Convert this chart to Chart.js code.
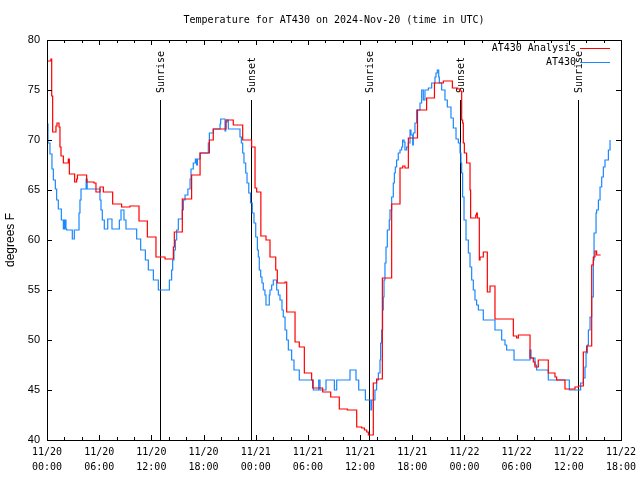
<!DOCTYPE html>
<html>
<head>
<meta charset="utf-8">
<script src="https://cdn.jsdelivr.net/npm/chart.js@4/dist/chart.umd.min.js"></script>
<style>
html,body{margin:0;padding:0;background:#fff;}
canvas{display:block;}
</style>
</head>
<body>
<canvas id="c" width="640" height="480"></canvas>
<script>
// ---- data (hours since 2024-11-20 00:00 UTC) ----
const chartTitle = 'Temperature for AT430 on 2024-Nov-20 (time in UTC)';
const yTitle = 'degrees F';
const seriesNames = ['AT430 Analysis', 'AT430'];

const analysisHours = [0,0.45,0.54,0.65,1.03,1.15,1.38,1.49,1.61,1.88,2.45,2.57,3.18,3.41,3.5,4.56,5.4,5.63,6.09,6.48,7.55,8.58,9.54,10.58,11.54,12.53,13.57,14.53,14.64,15.56,16.63,17.6,18.67,19.12,20.58,21.42,22.5,23.53,23.92,24.11,24.59,25.18,25.64,26.3,26.48,27.37,27.56,28.52,29.01,29.59,30.43,30.55,31.7,32.62,33.61,34.53,35.61,36.18,36.5,36.76,36.95,37.52,37.9,38.56,39.63,40.59,40.9,41.16,41.55,42.6,43.65,44.55,45.57,46.61,47.22,47.49,47.68,47.79,47.87,47.99,48.25,48.64,48.71,49.3,49.4,49.48,49.71,49.79,50.17,50.63,50.94,51.51,53.62,54.0,54.2,55.54,55.92,56.11,56.49,57.64,58.41,58.6,59.56,60.71,61.1,61.67,62.05,62.63,62.82,63.01,63.2,63.66];
const analysisTemps = [77.9,78.1,74.4,70.8,71.4,71.7,71.3,69.3,68.4,67.7,68.1,66.6,65.8,66.1,66.5,65.8,65.7,64.8,65.3,64.8,63.6,63.3,63.4,61.9,60.3,58.3,58.1,59.3,60.8,64.1,66.5,68.7,70.0,71.1,72.0,71.5,70.0,69.3,65.2,64.8,60.4,60.0,58.3,57.0,55.7,55.8,52.8,49.8,49.3,46.7,46.0,45.2,44.8,44.3,43.1,43.0,41.3,41.2,41.0,40.8,40.5,45.7,46.1,56.2,63.6,67.2,67.4,67.2,70.2,73.0,74.2,75.7,75.9,75.2,75.1,74.9,72.0,71.7,69.7,68.7,67.7,65.0,62.2,62.5,62.7,62.2,58.0,58.3,58.8,54.8,55.4,52.1,50.4,50.2,50.5,48.2,47.8,47.3,48.0,46.7,46.3,46.0,45.1,45.3,45.4,48.8,49.4,57.5,58.3,58.9,58.5,58.5];

const obsHours = [0,0.11,0.34,0.57,0.73,0.96,1.11,1.3,1.65,1.88,1.98,2.05,2.11,2.18,2.26,2.91,3.14,3.68,3.79,3.91,4.5,4.62,6.09,6.21,6.36,6.59,6.98,7.47,8.32,8.51,8.85,9.08,10.31,10.77,11.31,11.65,12.23,12.8,14.07,14.33,14.45,14.6,14.76,14.91,15.1,15.56,15.68,15.87,16.2,16.45,16.56,16.82,17.06,17.2,17.3,17.6,18.55,18.67,19.12,19.9,19.97,20.47,20.55,20.7,20.85,22.19,22.35,22.5,22.65,22.85,23.0,23.2,23.4,23.6,23.8,24.0,24.19,24.3,24.41,24.57,24.72,24.87,25.06,25.18,25.56,25.64,25.83,26.02,26.41,26.6,26.79,27.02,27.17,27.37,27.56,27.75,28.13,28.4,29.01,30.62,31.24,31.39,32.08,33.04,33.31,34.84,35.53,35.84,36.61,37.25,37.33,37.71,37.9,38.1,38.29,38.36,38.48,38.59,38.67,38.75,38.86,38.98,39.13,39.36,39.44,39.63,39.82,39.94,40.05,40.2,40.39,40.59,40.78,40.89,41.05,41.16,41.35,41.55,41.74,41.85,42.05,42.12,42.31,42.5,42.89,43.08,43.27,43.46,43.85,44.23,44.61,44.73,44.88,45.04,45.11,45.38,45.76,46.03,46.45,46.72,47.03,47.3,47.49,47.6,47.68,47.79,47.95,48.18,48.45,48.64,48.83,49.02,49.21,49.4,49.6,50.17,51.51,52.28,52.66,52.85,53.7,55.54,55.65,56.11,56.3,57.64,60.06,61.36,61.67,61.86,61.98,62.13,62.25,62.44,62.63,62.82,62.9,63.13,63.2,63.4,63.59,63.78,63.97,64.16,64.55,64.74];
const obsTemps = [71.6,69.7,68.6,67.1,66.0,65.1,64.0,63.1,62.0,61.1,62.0,61.1,62.0,61.1,61.0,60.1,61.0,62.7,64.0,65.1,66.1,65.1,64.0,63.0,62.0,61.1,62.1,61.1,62.0,63.0,62.0,61.1,60.1,59.0,58.0,57.0,56.0,55.0,56.0,57.0,58.0,59.0,60.0,61.0,62.1,63.0,64.0,64.5,65.1,66.1,67.1,67.7,68.1,67.5,68.1,68.7,69.7,70.7,71.1,71.6,72.1,70.9,71.8,72.0,71.1,70.3,69.7,68.7,67.7,66.7,65.7,64.7,63.7,62.7,61.7,60.3,59.0,58.3,57.0,56.3,55.7,55.0,54.5,53.5,54.5,55.0,55.5,56.0,55.0,54.5,54.0,53.0,52.3,51.0,50.0,49.0,48.0,47.0,46.0,45.0,46.0,45.0,46.0,45.0,46.0,47.0,46.0,45.0,44.0,43.0,44.0,45.0,46.0,46.7,48.0,49.7,51.0,53.0,54.3,56.0,57.7,59.3,61.0,62.0,63.0,64.3,65.7,66.7,67.3,68.0,68.7,69.0,69.3,70.0,69.8,69.0,69.3,69.7,71.0,70.5,69.5,70.7,71.7,73.0,73.7,75.0,74.0,75.0,75.2,75.7,76.3,76.7,77.0,76.3,75.7,75.0,74.0,73.3,72.2,71.2,70.1,69.7,68.7,67.7,66.7,64.3,62.0,60.0,58.7,57.3,56.0,55.0,54.0,53.5,53.0,52.0,51.0,50.0,49.5,49.0,48.0,49.0,48.2,47.5,47.0,46.0,45.0,45.7,46.2,47.3,48.7,49.5,51.0,52.3,54.3,58.0,60.7,62.7,63.0,64.0,65.3,66.3,67.3,68.0,69.0,70.0];

const eventHours = [12.98, 23.47, 37.02, 47.48, 61.08];
const eventLabels = ['Sunrise', 'Sunset', 'Sunrise', 'Sunset', 'Sunrise'];

const xTickDays  = ['11/20','11/20','11/20','11/20','11/21','11/21','11/21','11/21','11/22','11/22','11/22','11/22'];
const xTickTimes = ['00:00','06:00','12:00','18:00','00:00','06:00','12:00','18:00','00:00','06:00','12:00','18:00'];

// ---- styling ----
const RED = '#ff0000';
const BLUE = '#1a88ff';
const MONO = '"DejaVu Sans Mono", "Liberation Mono", monospace';
const SANS = '"Liberation Sans", Arial, sans-serif';

const toPts = (xs, ys) => xs.map((h, i) => ({ x: h, y: ys[i] }));

const frame = {
  id: 'frame',
  beforeDatasetsDraw(chart) {
    const { ctx, chartArea: a, scales: { x } } = chart;
    ctx.save();
    ctx.strokeStyle = '#000';
    ctx.fillStyle = '#000';
    ctx.lineWidth = 1;
    ctx.font = '10px ' + MONO;
    eventHours.forEach((h, i) => {
      const px = Math.round(x.getPixelForValue(h)) + 0.5;
      ctx.beginPath();
      ctx.moveTo(px, a.top + 60);
      ctx.lineTo(px, a.bottom);
      ctx.stroke();
      ctx.save();
      ctx.translate(px + 1, a.top + 53);
      ctx.rotate(-Math.PI / 2);
      ctx.textAlign = 'left';
      ctx.textBaseline = 'middle';
      ctx.fillText(eventLabels[i], 0, 0);
      ctx.restore();
    });
    ctx.restore();
  },
  afterDraw(chart) {
    const { ctx, chartArea: a, scales: { x, y } } = chart;
    ctx.save();
    ctx.strokeStyle = '#000';
    ctx.lineWidth = 1;
    // border
    ctx.strokeRect(Math.round(a.left) + 0.5, Math.round(a.top) + 0.5, Math.round(a.right - a.left), Math.round(a.bottom - a.top));
    // x ticks (inward, mirrored), minor every 2 h
    ctx.beginPath();
    for (let h = x.min; h <= x.max; h += 2) {
      const px = Math.round(x.getPixelForValue(h)) + 0.5;
      const len = (h % 6 === 0) ? 5 : 3;
      ctx.moveTo(px, a.bottom); ctx.lineTo(px, a.bottom - len);
      ctx.moveTo(px, a.top); ctx.lineTo(px, a.top + len);
    }
    // y ticks
    y.ticks.forEach(t => {
      const py = Math.round(y.getPixelForValue(t.value)) + 0.5;
      ctx.moveTo(a.left, py); ctx.lineTo(a.left + 5, py);
      ctx.moveTo(a.right, py); ctx.lineTo(a.right - 5, py);
    });
    ctx.stroke();
    // title
    ctx.fillStyle = '#000';
    ctx.font = '10px ' + MONO;
    ctx.textAlign = 'center';
    ctx.textBaseline = 'middle';
    ctx.fillText(chartTitle, (a.left + a.right) / 2, 20);
    // legend (gnuplot style: text then sample line)
    const colors = [RED, BLUE];
    ctx.textAlign = 'right';
    seriesNames.forEach((name, i) => {
      const ly = a.top + 8 + i * 14;
      ctx.fillStyle = '#000';
      ctx.fillText(name, a.right - 45, ly);
      ctx.strokeStyle = colors[i];
      ctx.beginPath();
      ctx.moveTo(a.right - 41, Math.round(ly) + 0.5);
      ctx.lineTo(a.right - 11, Math.round(ly) + 0.5);
      ctx.stroke();
    });
    ctx.restore();
  }
};

new Chart(document.getElementById('c'), {
  type: 'line',
  data: {
    datasets: [
      { label: seriesNames[0], data: toPts(analysisHours, analysisTemps), borderColor: RED, backgroundColor: RED, borderWidth: 1.2, pointRadius: 0, stepped: true, fill: false },
      { label: seriesNames[1], data: toPts(obsHours, obsTemps), borderColor: BLUE, backgroundColor: BLUE, borderWidth: 1.2, pointRadius: 0, stepped: true, fill: false }
    ]
  },
  options: {
    responsive: false,
    animation: false,
    devicePixelRatio: 1,
    layout: { padding: { top: 40, right: 19, left: 0, bottom: 0 } },
    plugins: { legend: { display: false }, title: { display: false }, tooltip: { enabled: false } },
    scales: {
      x: {
        type: 'linear', min: 0, max: 66,
        grid: { display: false, drawTicks: false }, border: { display: false },
        afterFit: s => { s.height = 40; s.paddingLeft = 0; s.paddingRight = 0; },
        ticks: {
          stepSize: 6, autoSkip: false, maxRotation: 0, padding: 5, color: '#000',
          font: { family: MONO, size: 10, lineHeight: 1.5 },
          callback: (v) => { const i = Math.round(v / 6); return [xTickDays[i], xTickTimes[i]]; }
        }
      },
      y: {
        min: 40, max: 80,
        grid: { display: false, drawTicks: false }, border: { display: false },
        afterFit: s => { s.width = 47; },
        title: { display: true, text: yTitle, color: '#000', font: { family: SANS, size: 12 }, padding: { top: 3, bottom: 0 } },
        ticks: { stepSize: 5, padding: 7, color: '#000', font: { family: SANS, size: 11 } }
      }
    }
  },
  plugins: [frame]
});
</script>
</body>
</html>
